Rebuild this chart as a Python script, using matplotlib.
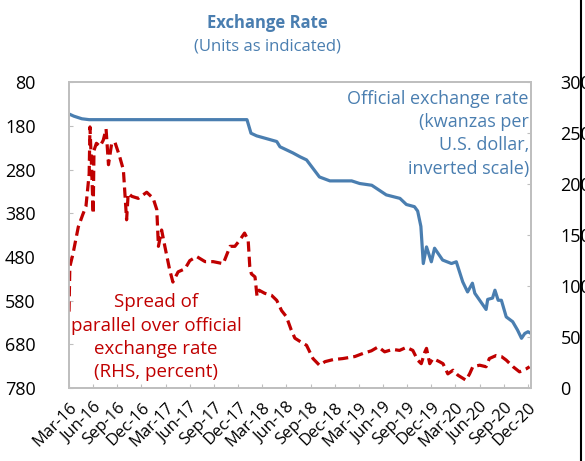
import numpy as np
import matplotlib
matplotlib.use("Agg")
import matplotlib.pyplot as plt
from matplotlib.lines import Line2D

plt.rcParams['font.family'] = ['Open Sans', 'DejaVu Sans']

# months since Mar-2016, official rate (kwanzas per US$, left axis, inverted)
off_t = [0, 0.6, 1.6, 2.5, 22.1, 22.6, 23.3, 25.8, 26.2, 27.8, 28.7, 29.5, 31.1, 32.4,
         35.1, 36.1, 37.6, 39.4, 41.1, 41.9, 42.9, 43.3, 43.7, 44.0, 44.4, 45.0, 45.4,
         46.4, 47.5, 48.1, 48.9, 49.5, 50.1, 50.4, 51.8, 52.0, 52.6, 52.9, 53.3, 53.7,
         54.3, 55.1, 55.7, 56.2, 56.6, 57.0, 57.4]
off_v = [153, 158, 164, 166, 166, 197, 203, 216, 228, 242, 251, 258, 297, 306,
         306, 312, 316, 338, 346, 360, 365, 375, 410, 495, 457, 491, 460,
         487, 495, 491, 537, 560, 540, 563, 600, 577, 574, 556, 579, 579,
         617, 628, 647, 666, 655, 651, 655]

# months since Mar-2016, spread of parallel over official rate (percent, right axis)
spr_t = [0, 0.1, 0.5, 1.15, 1.7, 2.1, 2.5, 2.6, 2.8, 3.0, 3.1, 3.4, 3.85, 4.25, 4.6,
         4.9, 5.3, 5.7, 6.25, 6.75, 7.15, 7.35, 7.8, 8.6, 9.65, 10.45, 10.9, 11.1,
         11.5, 11.9, 12.5, 12.9, 13.55, 14.4, 15.0, 15.85, 16.9, 17.9, 19.15, 20.0,
         20.6, 21.2, 21.8, 22.25, 22.45, 22.65, 23.1, 23.35, 23.6, 24.3, 25.15, 25.8,
         26.4, 27.0, 27.6, 28.05, 28.65, 29.5, 30.3, 31.1, 31.8, 32.8, 34.0, 35.5,
         36.5, 37.55, 38.4, 39.2, 40.2, 41.05, 41.9, 42.7, 43.3, 43.75, 44.2, 44.4,
         44.8, 45.2, 46.0, 46.45, 47.05, 47.7, 48.3, 49.3, 49.75, 50.15, 51.0, 51.8,
         52.2, 53.05, 53.7, 54.3, 55.15, 55.95, 56.8, 57.2]
spr_v = [75, 119, 132, 158, 170, 178, 210, 256, 217, 171, 233, 240, 237, 243, 254,
         219, 240, 241, 228, 214, 165, 191, 188, 186, 192, 186, 175, 139,
         155, 139, 116, 104, 114, 117, 125, 129, 124, 124, 122, 139,
         139, 145, 152, 145, 119, 112, 109, 90, 96, 93, 91, 86,
         76, 70, 57, 49, 46, 42, 29, 22.5, 26, 28, 29, 31,
         34, 36.6, 40.5, 35.6, 38, 37, 40, 37, 27.5, 24, 35.6, 39,
         24, 29, 26, 24, 14, 17.6, 12.7, 7.8, 14, 21, 22.5, 21,
         29, 32, 31, 27.5, 21, 16, 19, 21]

xlabels = ["Mar-16", "Jun-16", "Sep-16", "Dec-16", "Mar-17", "Jun-17", "Sep-17", "Dec-17",
           "Mar-18", "Jun-18", "Sep-18", "Dec-18", "Mar-19", "Jun-19", "Sep-19", "Dec-19",
           "Mar-20", "Jun-20", "Sep-20", "Dec-20"]
left_ticks = [80, 180, 280, 380, 480, 580, 680, 780]
right_ticks = [0, 50, 100, 150, 200, 250, 300]

blue = "#4a7eb0"
red = "#c00000"
grey = "#bfbfbf"

fig = plt.figure(figsize=(5.85, 4.61), dpi=100)
ax = fig.add_axes([0.118, 0.158, 0.790, 0.664])
ax2 = ax.twinx()

ax.plot(off_t, off_v, color=blue, lw=2.3, solid_capstyle='round')
ax2.plot(spr_t, spr_v, color=red, lw=2.3, dashes=(3.2, 1.6))

ax.set_ylim(780, 80)
ax.set_yticks(left_ticks)
ax2.set_ylim(0, 300)
ax2.set_yticks(right_ticks)
ax.set_xlim(0, 57.4)
ax.set_xticks(np.arange(0, 58, 3))
ax.set_xticklabels(xlabels, rotation=45, ha='right', va='top', rotation_mode='anchor')

for a in (ax, ax2):
    for s in a.spines.values():
        s.set_color(grey)
        s.set_linewidth(1.3)
ax.tick_params(axis='y', direction='in', length=3, color=grey, pad=24, labelsize=13)
ax.tick_params(axis='x', direction='in', length=3, color=grey, pad=8, labelsize=12)
ax2.tick_params(axis='y', direction='in', length=3, color=grey, pad=21, labelsize=13)

fig.text(0.457, 0.950, "Exchange Rate", ha='center', va='center', color=blue,
         fontsize=12, fontweight='bold')
fig.text(0.457, 0.899, "(Units as indicated)", ha='center', va='center', color=blue,
         fontsize=12)

ax.text(0.995, 0.975, "Official exchange rate\n(kwanzas per\nU.S. dollar,\ninverted scale)",
        transform=ax.transAxes, ha='right', va='top', color=blue, fontsize=13,
        linespacing=1.38)
ax.text(0.188, 0.167, "Spread of\nparallel over official\nexchange rate\n(RHS, percent)",
        transform=ax.transAxes, ha='center', va='center', color=red, fontsize=13.5,
        linespacing=1.36)

fig.add_artist(Line2D([0.994, 0.994], [0, 1], transform=fig.transFigure, color='black', lw=1.5))

fig.savefig("out.png", dpi=100)
